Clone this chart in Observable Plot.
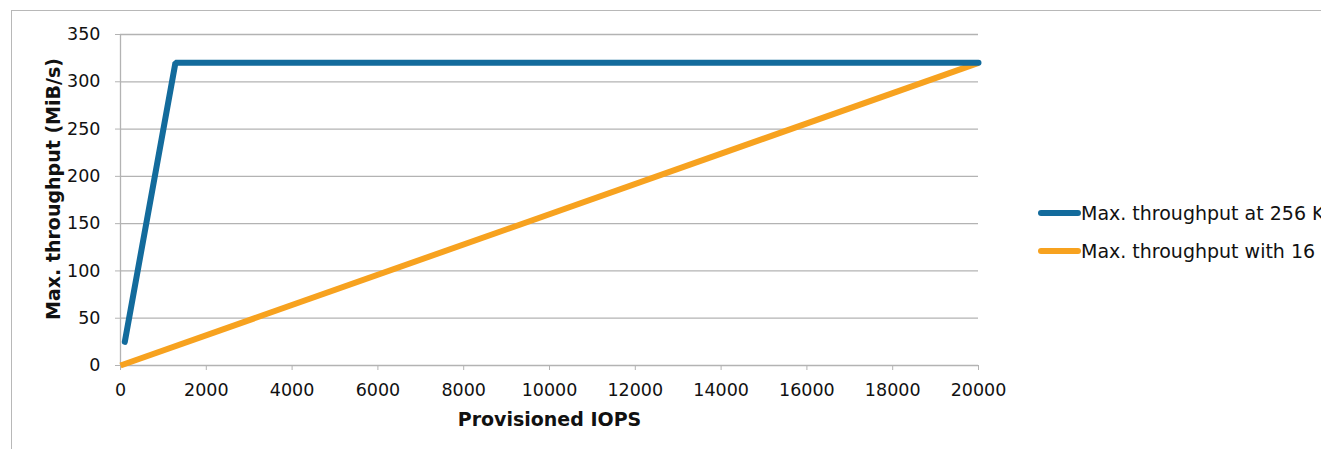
<!DOCTYPE html>
<html><head><meta charset="utf-8">
<script src="https://cdn.jsdelivr.net/npm/d3@7"></script>
<script src="https://cdn.jsdelivr.net/npm/@observablehq/plot@0.6"></script>
<style>
html,body{margin:0;padding:0;background:#fff;overflow:hidden;width:1321px;height:449px;}
#frame{position:absolute;left:11px;top:10px;width:1400px;height:500px;border:1px solid #b8b8b8;box-sizing:border-box;}
#chart{position:absolute;left:0;top:0;}
.leg{position:absolute;left:1038px;font-family:"DejaVu Sans",Verdana,sans-serif;font-size:19px;line-height:22px;color:#111;white-space:nowrap;display:flex;align-items:center;}
.leg span.sw{display:inline-block;width:43px;height:6px;border-radius:3px;margin-right:0px;}
</style></head><body>
<div id="frame"></div>
<div id="chart"></div>
<div class="leg" style="top:202px"><span class="sw" style="background:#136b9c"></span><span id="l1"></span></div>
<div class="leg" style="top:240px"><span class="sw" style="background:#f7a21f"></span><span id="l2"></span></div>
<script>
const series256Iops = [100, 1280, 20000];
const series256Tput = [25, 320, 320];
const series16Iops = [0, 20000];
const series16Tput = [0, 320];
const xTicks = [0, 2000, 4000, 6000, 8000, 10000, 12000, 14000, 16000, 18000, 20000];
const yTicks = [0, 50, 100, 150, 200, 250, 300, 350];
const seriesNames = ["Max. throughput at 256 KiB I/O size", "Max. throughput with 16 KiB I/O size"];

document.getElementById("l1").textContent = seriesNames[0];
document.getElementById("l2").textContent = seriesNames[1];

const data256 = series256Iops.map((x, i) => ({x, y: series256Tput[i]}));
const data16 = series16Iops.map((x, i) => ({x, y: series16Tput[i]}));

const gridColor = "#b3b3b3";
const chart = Plot.plot({
  width: 1321,
  height: 449,
  marginLeft: 120,
  marginRight: 343,
  marginTop: 34,
  marginBottom: 84,
  style: {fontFamily: "'DejaVu Sans', Verdana, sans-serif", fontSize: "17.5px", color: "#111", background: "transparent"},
  x: {domain: [0, 20000], ticks: xTicks, tickFormat: d => String(d)},
  y: {domain: [0, 350], ticks: yTicks, tickFormat: d => String(d)},
  marks: [
    Plot.ruleY(yTicks, {stroke: gridColor, strokeWidth: 1.3}),
    Plot.ruleX([0], {stroke: gridColor, strokeWidth: 1.3}),
    Plot.axisY({ticks: yTicks, tickSize: 5, tickPadding: 15, stroke: gridColor, strokeOpacity: 1, label: null, tickFormat: d => String(d), fontSize: 17.5}),
    Plot.axisX({ticks: xTicks, tickSize: 5, tickPadding: 13, stroke: gridColor, strokeOpacity: 1, label: null, tickFormat: d => String(d), fontSize: 17.5}),
    Plot.text(["Provisioned IOPS"], {frameAnchor: "bottom", textAnchor: "middle", lineAnchor: "middle", dy: 54, fontWeight: "bold", fontSize: 19, fill: "#111"}),
    Plot.text(["Max. throughput (MiB/s)"], {frameAnchor: "left", textAnchor: "middle", lineAnchor: "middle", dx: -67, dy: -11, rotate: -90, fontWeight: "bold", fontSize: 19, fill: "#111"}),
    Plot.line(data16, {x: "x", y: "y", stroke: "#f7a21f", strokeWidth: 6, strokeLinecap: "butt"}),
    Plot.line(data256, {x: "x", y: "y", stroke: "#136b9c", strokeWidth: 6, strokeLinecap: "round", strokeLinejoin: "miter"})
  ]
});
document.getElementById("chart").appendChild(chart);
</script>
</body></html>
